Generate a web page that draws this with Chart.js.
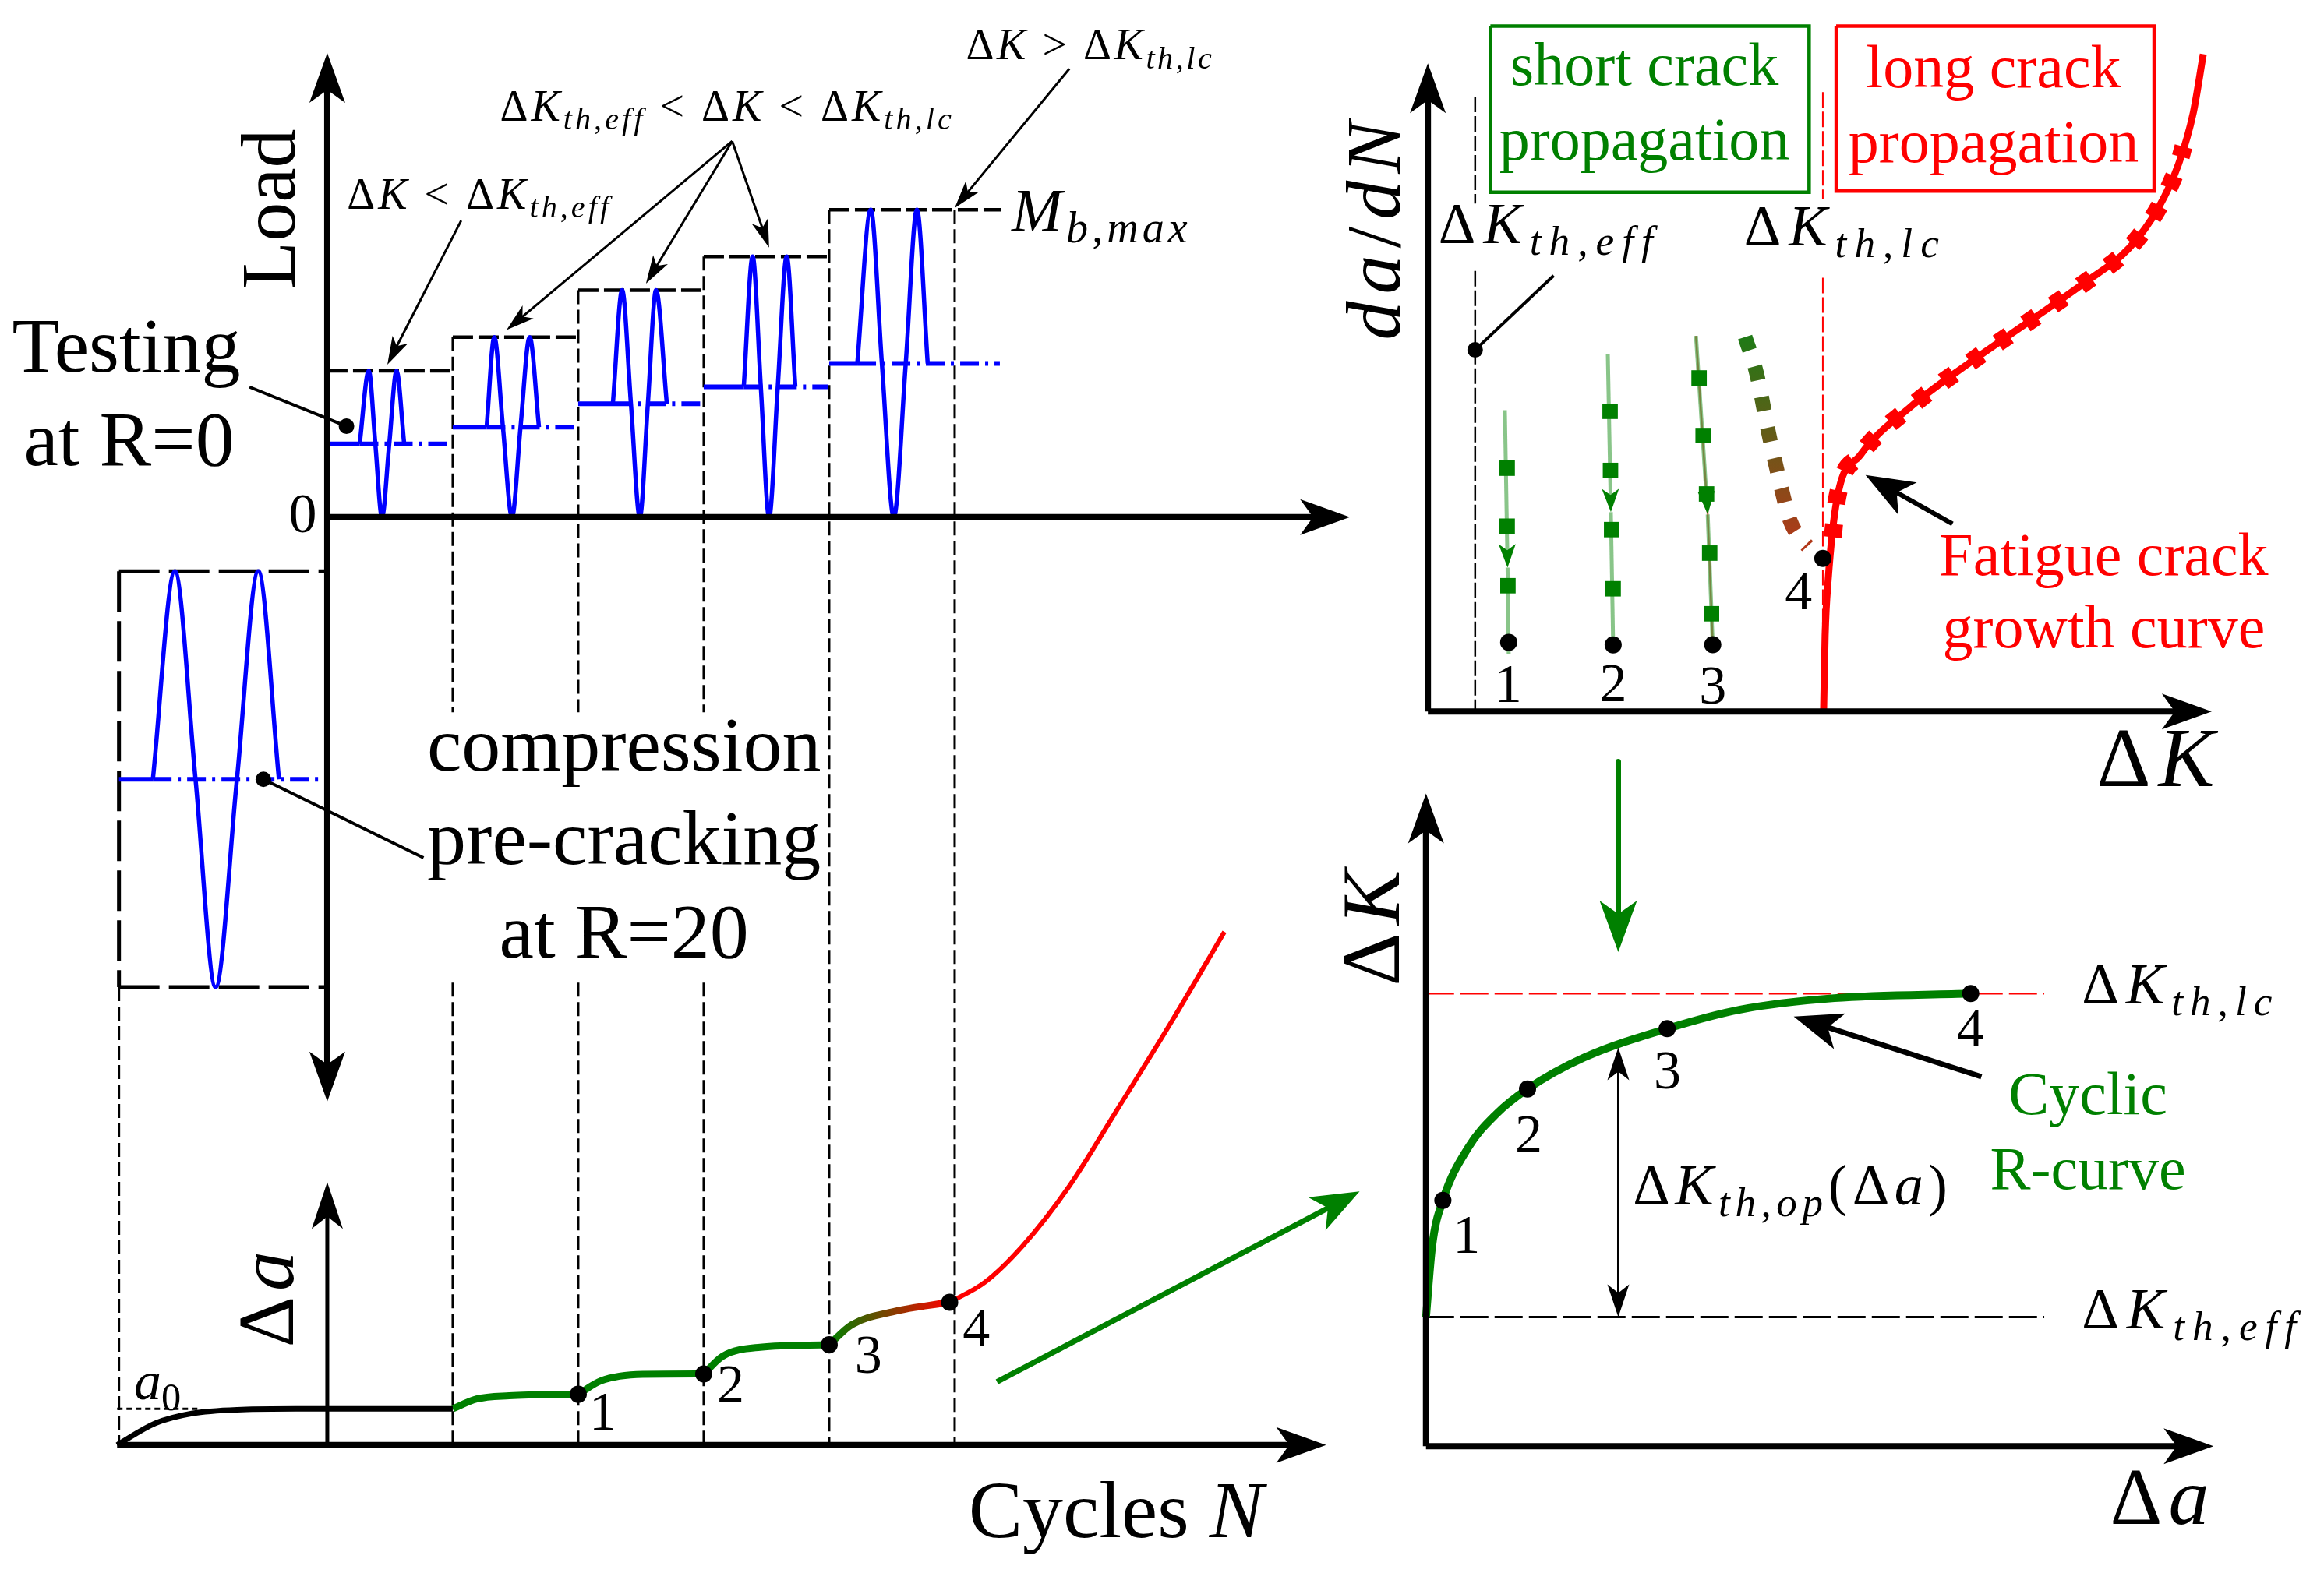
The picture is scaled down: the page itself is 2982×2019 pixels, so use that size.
<!DOCTYPE html>
<html>
<head>
<meta charset="utf-8">
<title>Cyclic R-curve schematic</title>
<script src="https://cdn.jsdelivr.net/npm/chart.js@4.4.1/dist/chart.umd.min.js"></script>
<style>
  html, body { margin: 0; padding: 0; background: #fff; }
  body { position: relative; width: 2982px; height: 2019px; overflow: hidden; }
  canvas { position: absolute; }
</style>
</head>
<body>
<canvas id="load"></canvas>
<canvas id="rate"></canvas>
<canvas id="rcurve"></canvas>
<script>
// ---------- values ----------
// load / cycles panel: N in load-block units, load relative to the first block peak
const blockStartN = [0, 1, 2, 3, 4];
const blockEndN = [1, 2, 3, 4, 5];
const blockTailN = [1, 2, 3, 4, 5.37];
const blockMaxLoad = [1.0, 1.23, 1.55, 1.78, 2.10];
const blockMinLoad = [0, 0, 0, 0, 0];
// rise, peak, mean, valley, mean, peak, fall
const blockWaveN = [
  [0.258, 0.331, 0.383, 0.436, 0.494, 0.552, 0.613],
  [1.27, 1.331, 1.40, 1.472, 1.54, 1.613, 1.687],
  [2.276, 2.35, 2.42, 2.491, 2.555, 2.62, 2.706],
  [3.319, 3.39, 3.455, 3.521, 3.59, 3.661, 3.73],
  [4.224, 4.331, 4.42, 4.515, 4.61, 4.699, 4.785],
];
const waveLevel = ['mean', 'max', 'mean', 'min', 'mean', 'max', 'mean'];
const precrackSpanN = [-1.66, 0];
const precrackWaveN = [-1.39, -1.215, -1.05, -0.89, -0.72, -0.55, -0.385];
const precrackMaxLoad = -0.37;
const precrackMinLoad = -3.21;

// crack extension vs cycles (Δa relative to a0)
const crackPreN = [-1.675, -1.37, -1.08, -0.68, -0.25, 0.3, 1.0];
const crackPreA = [0, 0.6, 0.87, 0.98, 1.0, 1.0, 1.0];
const crackShortN = [[1.0, 1.19, 1.45, 2.0], [2.0, 2.18, 2.515, 3.0], [3.0, 3.15, 3.45, 4.0]];
const crackShortA = [[1.0, 1.27, 1.36, 1.40], [1.40, 1.77, 1.95, 1.96], [1.96, 2.45, 2.70, 2.77]];
const crackMixN = [4.0, 4.18, 4.51, 4.96];
const crackMixA = [2.77, 3.32, 3.68, 3.94];
const crackLongN = [4.96, 5.24, 5.54, 5.91, 6.29, 6.72, 7.15];
const crackLongA = [3.94, 4.49, 5.49, 7.13, 9.23, 11.64, 14.17];
const crackMarkN = [2.0, 3.0, 4.0, 4.96];
const crackMarkA = [1.40, 1.96, 2.77, 3.94];
const a0Level = 1.0;

// da/dN vs ΔK (schematic units)
const dKthEff = 0.62;
const dKthLc = 5.18;
const fcgK = [5.19, 5.21, 5.25, 5.365, 5.67, 6.32, 7.09, 7.85, 8.62, 9.195, 9.58, 9.846, 10.037, 10.17];
const fcgRate = [0, 1.0, 1.74, 2.80, 3.38, 4.01, 4.59, 5.12, 5.66, 6.11, 6.64, 7.22, 7.89, 8.67];
const fcgTestK = [5.31, 5.365, 5.67, 6.32, 7.09, 7.85, 8.62, 9.195, 9.58, 9.846, 9.91];
const fcgTestRate = [2.30, 2.80, 3.38, 4.01, 4.59, 5.12, 5.66, 6.11, 6.64, 7.22, 7.45];
const shortTopK = [1.01, 2.36, 3.516];
const shortTopRate = [3.975, 4.71, 4.955];
const shortArrowK = [1.045, 2.40, 3.67];
const shortArrowRate = [1.90, 2.63, 2.60];
const shortEndK = [1.06, 2.43, 3.736];
const shortEndRate = [0.76, 0.88, 0.883];
const shortDotRate = [0.914, 0.88, 0.883];
const shortSqK = [[1.04, 1.04, 1.05], [2.39, 2.395, 2.41, 2.43], [3.557, 3.61, 3.655, 3.696, 3.72]];
const shortSqRate = [[3.21, 2.445, 1.66], [3.96, 3.18, 2.40, 1.62], [4.40, 3.64, 2.87, 2.09, 1.29]];
const transK = [4.16, 4.31, 4.47, 4.64, 4.75, 4.88, 4.98];
const transRate = [4.94, 4.465, 3.67, 2.93, 2.52, 2.29, 2.18];
const point4K = 5.18, point4Rate = 2.02;
const thEffMarkRate = 4.77;

// cyclic R-curve: ΔK vs Δa
const rcurveDa = [0, 0.08, 0.22, 0.55, 0.916, 1.325, 2.06, 3.148, 4.10, 5.33, 7.11];
const rcurveK = [1.69, 2.62, 3.22, 3.91, 4.35, 4.68, 5.09, 5.47, 5.72, 5.87, 5.93];
const rMarkDa = [0.22, 1.325, 3.148, 7.11];
const rMarkK = [3.22, 4.68, 5.47, 5.93];
const rThEff = 1.69, rThLc = 5.93;
const markNames = ['1', '2', '3', '4'];

// ---------- layout: canvas boxes, axis origins (px) and px per unit ----------
const frames = {
  load: { box: [0, 0, 1800, 2019], x: [414, 163], yL: [660, 190], yA: [1864, 47] },
  rate: { box: [1690, 0, 1292, 1050], x: [1821, 100], y: [924, 100] },
  rcurve: { box: [1690, 940, 1292, 1079], x: [1821, 100], y: [1864, 100] },
};
const GREEN = '#008000', RED = '#ff0000', BLUE = '#0000ff', BLACK = '#000000';
const LIGHTGREEN = 'rgba(40,150,40,0.55)';
const FONT = '"Liberation Serif", "Times New Roman", serif';
const BIG = [64, 46], AXHEAD = [60, 40], THIN = [36, 22], BOLD = [62, 48];

const pts = (xs, ys) => xs.map((x, i) => ({ x, y: ys[i] }));
function seg(data, color, width, more) {
  return Object.assign({ data, showLine: true, borderColor: color, backgroundColor: color,
    borderWidth: width, pointRadius: 0, order: 3 }, more || {});
}
const smooth = { cubicInterpolationMode: 'monotone' };
function dots(xs, ys, r, more) {
  return Object.assign({ data: pts(xs, ys), showLine: false, pointRadius: r,
    pointBackgroundColor: BLACK, pointBorderWidth: 0, order: 0 }, more || {});
}
function waveData(ns, max, min) {
  const lv = { max, min, mean: (max + min) / 2 };
  return ns.map((n, i) => ({ x: n, y: lv[waveLevel[i]] }));
}
function hGradient(x0, x1, c0, c1) {
  return (c) => {
    const ch = c.chart;
    if (!ch.chartArea) return c0;
    const xs = ch.scales.x;
    const g = ch.ctx.createLinearGradient(xs.getPixelForValue(x0), 0, xs.getPixelForValue(x1), 0);
    g.addColorStop(0, c0); g.addColorStop(1, c1);
    return g;
  };
}
function vGradient(y0, y1, c0, c1, axis) {
  return (c) => {
    const ch = c.chart;
    if (!ch.chartArea) return c0;
    const ys = ch.scales[axis || 'y'];
    const g = ch.ctx.createLinearGradient(0, ys.getPixelForValue(y0), 0, ys.getPixelForValue(y1));
    g.addColorStop(0, c0); g.addColorStop(1, c1);
    return g;
  };
}
const meanDash = { borderDash: (c) => (c.p0DataIndex === 0 ? [] : [24, 8, 4, 8]) };

// ---------- left: load blocks and crack extension ----------
const fl = frames.load;
const crackZeroLoad = (fl.yL[0] - fl.yA[0]) / fl.yL[1];
const textGapLoad = [-1.332, -3.179], textGapN = [0.8, 3.9];
const yL = { yAxisID: 'yL' }, yA = { yAxisID: 'yA' };
const loadSets = [];

loadSets.push(seg([{ x: 0, y: -3.99 }, { x: 0, y: 3.17 }], BLACK, 8, { ...yL, headStart: BIG, headEnd: BIG, order: 1 }));
loadSets.push(seg([{ x: 0, y: 0 }, { x: 8.15, y: 0 }], BLACK, 8, { ...yL, headEnd: BIG, order: 1 }));
loadSets.push(seg([{ x: 0, y: 0 }, { x: 0, y: 7.26 }], BLACK, 5, { ...yA, headEnd: AXHEAD, order: 1 }));
loadSets.push(seg([{ x: -1.675, y: 0 }, { x: 7.96, y: 0 }], BLACK, 8, { ...yA, headEnd: BIG, order: 1 }));

blockStartN.forEach((n0, k) => {
  const max = blockMaxLoad[k], min = blockMinLoad[k], mean = (max + min) / 2;
  const nEnd = blockEndN[k];
  loadSets.push(seg([{ x: n0, y: max }, { x: blockTailN[k], y: max }], BLACK, 4.5, { ...yL, borderDash: [26, 7], order: 4 }));
  const top = k < blockStartN.length - 1 ? blockMaxLoad[k + 1] : max;
  const edge = nEnd > textGapN[0] && nEnd < textGapN[1]
    ? [{ x: nEnd, y: top }, { x: nEnd, y: textGapLoad[0] }, { x: nEnd, y: null }, { x: nEnd, y: textGapLoad[1] }, { x: nEnd, y: crackZeroLoad }]
    : [{ x: nEnd, y: top }, { x: nEnd, y: crackZeroLoad }];
  loadSets.push(seg(edge, BLACK, 3, { ...yL, borderDash: [18, 7], order: 4 }));
  loadSets.push(seg([{ x: n0, y: mean }, { x: blockWaveN[k][0], y: mean }, { x: blockTailN[k] - 0.01, y: mean }], BLUE, 6,
    { ...yL, order: 2, segment: meanDash }));
  loadSets.push(seg(waveData(blockWaveN[k], max, min), BLUE, 5.5, { ...yL, ...smooth, order: 2 }));
});

// compression pre-cracking block
const pcMean = (precrackMaxLoad + precrackMinLoad) / 2;
const [pc0, pc1] = precrackSpanN;
loadSets.push(seg([{ x: pc0, y: precrackMaxLoad }, { x: pc1, y: precrackMaxLoad }], BLACK, 5, { ...yL, borderDash: [52, 12], order: 4 }));
loadSets.push(seg([{ x: pc0, y: precrackMinLoad }, { x: pc1, y: precrackMinLoad }], BLACK, 5, { ...yL, borderDash: [52, 12], order: 4 }));
loadSets.push(seg([{ x: pc0, y: precrackMaxLoad }, { x: pc0, y: precrackMinLoad }], BLACK, 5, { ...yL, borderDash: [52, 12], order: 4 }));
loadSets.push(seg([{ x: pc0, y: precrackMinLoad }, { x: pc0, y: crackZeroLoad }], BLACK, 3, { ...yL, borderDash: [18, 7], order: 4 }));
loadSets.push(seg([{ x: pc0, y: pcMean }, { x: precrackWaveN[0], y: pcMean }, { x: pc1, y: pcMean }], BLUE, 6,
  { ...yL, order: 2, segment: meanDash }));
loadSets.push(seg(waveData(precrackWaveN, precrackMaxLoad, precrackMinLoad), BLUE, 5.5, { ...yL, ...smooth, order: 2 }));

// crack extension curve
loadSets.push(seg(pts(crackPreN, crackPreA), BLACK, 7, { ...yA, ...smooth, order: 2 }));
crackShortN.forEach((ns, i) => loadSets.push(seg(pts(ns, crackShortA[i]), GREEN, 9, { ...yA, ...smooth, order: 2 })));
loadSets.push(seg(pts(crackMixN, crackMixA), GREEN, 9, { ...yA, ...smooth, order: 2,
  borderColor: hGradient(crackMixN[0], crackMixN[crackMixN.length - 1], GREEN, RED) }));
loadSets.push(seg(pts(crackLongN, crackLongA), RED, 6, { ...yA, ...smooth, order: 2 }));
loadSets.push(seg([{ x: -1.675, y: a0Level }, { x: -1.01, y: a0Level }], BLACK, 3, { ...yA, borderDash: [7, 5], order: 4 }));
loadSets.push(dots(crackMarkN, crackMarkA, 11, yA));

// pointers and annotation arrows
loadSets.push(seg([{ x: -0.62, y: 0.889 }, { x: 0.153, y: 0.621 }], BLACK, 4, yL));
loadSets.push(dots([0.153], [0.621], 10, yL));
loadSets.push(seg([{ x: 0.767, y: -2.326 }, { x: -0.509, y: pcMean }], BLACK, 4, yL));
loadSets.push(dots([-0.509], [pcMean], 10, yL));
loadSets.push(seg([{ x: 1.067, y: 2.026 }, { x: 0.479, y: 1.042 }], BLACK, 3, { ...yL, headEnd: THIN, order: 1 }));
[[1.429, 1.279], [2.54, 1.595], [3.521, 1.842]].forEach(([n, l]) =>
  loadSets.push(seg([{ x: 3.227, y: 2.568 }, { x: n, y: l }], BLACK, 3, { ...yL, headEnd: THIN, order: 1 })));
loadSets.push(seg([{ x: 5.914, y: 3.063 }, { x: 5.0, y: 2.111 }], BLACK, 3, { ...yL, headEnd: THIN, order: 1 }));
loadSets.push(seg([{ x: 5.337, y: 1.745 }, { x: 8.227, y: 7.0 }], GREEN, 7, { ...yA, headEnd: BOLD, order: 1 }));

// ---------- top right: da/dN vs ΔK ----------
const rateSets = [];
rateSets.push(seg([{ x: 0, y: 0 }, { x: 0, y: 8.55 }], BLACK, 8, { headEnd: BIG, order: 1 }));
rateSets.push(seg([{ x: 0, y: 0 }, { x: 10.28, y: 0 }], BLACK, 8, { headEnd: BIG, order: 1 }));
rateSets.push(seg([{ x: dKthEff, y: 8.11 }, { x: dKthEff, y: 6.70 }, { x: dKthEff, y: null }, { x: dKthEff, y: 5.81 }, { x: dKthEff, y: 0 }],
  BLACK, 2.5, { borderDash: [20, 5], order: 4 }));
rateSets.push(seg([{ x: dKthLc, y: 8.17 }, { x: dKthLc, y: 6.76 }, { x: dKthLc, y: null }, { x: dKthLc, y: 5.72 }, { x: dKthLc, y: 0 }],
  RED, 2, { borderDash: [20, 5], order: 4 }));
rateSets.push(seg([{ x: 0.82, y: 9.04 }, { x: 5.00, y: 9.04 }, { x: 5.00, y: 6.85 }, { x: 0.82, y: 6.85 }, { x: 0.82, y: 9.04 }],
  GREEN, 4.5, { borderJoinStyle: 'miter' }));
rateSets.push(seg([{ x: 5.355, y: 9.04 }, { x: 9.525, y: 9.04 }, { x: 9.525, y: 6.865 }, { x: 5.355, y: 6.865 }, { x: 5.355, y: 9.04 }],
  RED, 4.5, { borderJoinStyle: 'miter' }));
rateSets.push(seg(pts(fcgK, fcgRate), RED, 9, { ...smooth, order: 2 }));
rateSets.push(seg(pts(fcgTestK, fcgTestRate), RED, 23, { ...smooth, borderDash: [17, 26], order: 2 }));
shortTopK.forEach((k, i) => {
  const upper = [{ x: k, y: shortTopRate[i] }, { x: shortArrowK[i], y: shortArrowRate[i] }];
  const lower = [{ x: shortArrowK[i], y: shortArrowRate[i] }, { x: shortEndK[i], y: shortEndRate[i] }];
  rateSets.push(seg(upper, LIGHTGREEN, 5, { headEnd: [30, 22], backgroundColor: GREEN, order: 2 }));
  rateSets.push(seg(lower, LIGHTGREEN, 5, { order: 2 }));
  if (i === 2) {
    rateSets.push(seg(upper, 'rgba(205,95,70,0.85)', 2.5, { order: 2 }));
    rateSets.push(seg(lower, 'rgba(205,95,70,0.85)', 2.5, { order: 2 }));
  }
  rateSets.push({ data: pts(shortSqK[i], shortSqRate[i]), showLine: false, pointStyle: 'rect', pointRadius: 14,
    pointBackgroundColor: GREEN, pointBorderWidth: 0, order: 1 });
});
rateSets.push(dots(shortEndK, shortDotRate, 11));
rateSets.push(seg(pts(transK, transRate), '#5a5a1a', 19, { ...smooth, borderDash: [18, 22], order: 2,
  borderColor: vGradient(transRate[0], transRate[transRate.length - 1], '#1f7a16', '#b3381a') }));
rateSets.push(dots([point4K], [point4Rate], 11));
rateSets.push(dots([dKthEff], [thEffMarkRate], 10));
rateSets.push(seg([{ x: dKthEff, y: thEffMarkRate }, { x: 1.65, y: 5.75 }], BLACK, 4));
rateSets.push(seg([{ x: 6.88, y: 2.475 }, { x: 5.74, y: 3.12 }], BLACK, 6, { headEnd: BOLD, order: 1 }));

// ---------- bottom right: cyclic R-curve ----------
const rSets = [];
rSets.push(seg([{ x: 0, y: 0 }, { x: 0, y: 8.55 }], BLACK, 8, { headEnd: BIG, order: 1 }));
rSets.push(seg([{ x: 0, y: 0 }, { x: 10.28, y: 0 }], BLACK, 8, { headEnd: BIG, order: 1 }));
rSets.push(seg([{ x: 0, y: rThLc }, { x: 8.07, y: rThLc }], RED, 2.5, { borderDash: [36, 8], order: 4 }));
rSets.push(seg([{ x: 0, y: rThEff }, { x: 8.07, y: rThEff }], BLACK, 3, { borderDash: [36, 8], order: 4 }));
rSets.push(seg(pts(rcurveDa, rcurveK), GREEN, 10, { ...smooth, order: 2 }));
rSets.push(dots(rMarkDa, rMarkK, 11));
rSets.push(seg([{ x: 2.51, y: 5.224 }, { x: 2.51, y: rThEff }], BLACK, 3, { headStart: [42, 28], headEnd: [42, 28], order: 1 }));
rSets.push(seg([{ x: 7.25, y: 4.84 }, { x: 4.80, y: 5.63 }], BLACK, 7, { headEnd: BOLD, order: 1 }));
rSets.push(seg([{ x: 2.51, y: 8.97 }, { x: 2.51, y: 6.474 }], GREEN, 7, { headEnd: [66, 48], order: 1 }));

// ---------- text ----------
const panelLabels = {
  load: [
    { s: 'Load', x: -0.423, y: 2.105, size: 100, rot: -90, align: 'center', base: 'middle' },
    { s: '0', x: -0.196, y: 0, size: 72, align: 'center', base: 'middle' },
    { s: 'Testing', x: -1.58, y: 0.995, size: 100, align: 'center' },
    { s: 'at R=0', x: -1.58, y: 0.353, size: 100, align: 'center' },
    { s: '$ΔK < ΔK_{th,eff}$', x: 1.2, y: 2.105, size: 56, align: 'center', tr: 4 },
    { s: '$ΔK_{th,eff} < ΔK < ΔK_{th,lc}$', x: 3.175, y: 2.71, size: 56, align: 'center', tr: 4 },
    { s: '$ΔK > ΔK_{th,lc}$', x: 6.07, y: 3.126, size: 56, align: 'center', tr: 3.5 },
    { s: '$M_{b,max}$', x: 5.454, y: 1.958, size: 78, align: 'left', tr: 5 },
    { s: 'compression', x: 2.365, y: -1.732, size: 100, align: 'center' },
    { s: 'pre-cracking', x: 2.365, y: -2.368, size: 100, align: 'center' },
    { s: 'at R=20', x: 2.365, y: -3.01, size: 100, align: 'center' },
    { s: '$Δa$', ax: 'yA', x: -0.442, y: 4.02, size: 102, rot: -90, align: 'center', base: 'middle', tr: 7 },
    { s: '$a_0$', ax: 'yA', x: -1.54, y: 1.255, size: 70, align: 'left' },
    { s: 'Cycles $N$', ax: 'yA', x: 5.11, y: -2.55, size: 104, align: 'left' },
    ...markNames.map((t, i) => ({ s: t, ax: 'yA', x: [2.196, 3.215, 4.313, 5.172][i], y: [0.81, 1.57, 2.38, 3.15][i], size: 70, align: 'center', base: 'middle' })),
  ],
  rate: [
    { s: 'short crack', x: 2.84, y: 8.26, size: 78, color: GREEN, align: 'center' },
    { s: 'propagation', x: 2.84, y: 7.28, size: 78, color: GREEN, align: 'center' },
    { s: 'long crack', x: 7.42, y: 8.23, size: 78, color: RED, align: 'center' },
    { s: 'propagation', x: 7.42, y: 7.25, size: 78, color: RED, align: 'center' },
    { s: '$da/dN$', x: -0.64, y: 6.34, size: 100, rot: -90, align: 'center', base: 'middle', tr: 9 },
    { s: '$ΔK_{th,eff}$', x: 0.14, y: 6.18, size: 74, align: 'left', tr: 10 },
    { s: '$ΔK_{th,lc}$', x: 4.145, y: 6.15, size: 74, align: 'left', tr: 10 },
    { s: 'Fatigue crack', x: 8.865, y: 1.80, size: 78, color: RED, align: 'center' },
    { s: 'growth curve', x: 8.865, y: 0.85, size: 78, color: RED, align: 'center' },
    { s: '$ΔK$', x: 8.77, y: -0.98, size: 108, align: 'left', tr: 10 },
    ...markNames.map((t, i) => ({ s: t, x: [1.055, 2.43, 3.736, 4.86][i], y: [0.32, 0.33, 0.30, 1.54][i], size: 70, align: 'center', base: 'middle' })),
  ],
  rcurve: [
    { s: '$ΔK$', x: -0.64, y: 6.79, size: 106, rot: -90, align: 'center', base: 'middle', tr: 10 },
    { s: '$Δa$', x: 8.93, y: -1.02, size: 104, align: 'left', tr: 8 },
    { s: '$ΔK_{th,lc}$', x: 8.56, y: 5.80, size: 74, align: 'left', tr: 9 },
    { s: '$ΔK_{th,eff}$', x: 8.56, y: 1.54, size: 74, align: 'left', tr: 10 },
    { s: '$ΔK_{th,op}(Δa)$', x: 2.70, y: 3.164, size: 74, align: 'left', tr: 6.5 },
    { s: 'Cyclic', x: 8.64, y: 4.35, size: 78, color: GREEN, align: 'center' },
    { s: 'R-curve', x: 8.64, y: 3.37, size: 78, color: GREEN, align: 'center' },
    ...markNames.map((t, i) => ({ s: t, x: [0.53, 1.34, 3.15, 7.105][i], y: [2.725, 4.04, 4.87, 5.43][i], size: 70, align: 'center', base: 'middle' })),
  ],
};

// $...$ is math: latin letters italic, _{..} subscript
function parseRich(s) {
  const runs = [];
  let math = false;
  const push = (t, it, sub) => {
    const last = runs[runs.length - 1];
    if (last && last.it === it && last.sub === sub) last.t += t;
    else runs.push({ t, it, sub });
  };
  for (let i = 0; i < s.length; i++) {
    const c = s[i];
    if (c === '$') { math = !math; continue; }
    if (math && c === '_') {
      let g;
      if (s[i + 1] === '{') { const j = s.indexOf('}', i); g = s.slice(i + 2, j); i = j; }
      else { g = s[i + 1]; i++; }
      for (const ch of g) push(ch, /[A-Za-z]/.test(ch), true);
      continue;
    }
    push(c, math && /[A-Za-z]/.test(c), false);
  }
  return runs;
}

function drawRich(ctx, it, px, py) {
  const runs = parseRich(it.s), size = it.size, tr = it.tr || 0;
  const font = (r) => (r.it ? 'italic ' : '') + (r.sub ? size * 0.72 : size) + 'px ' + FONT;
  ctx.save();
  ctx.translate(px, py);
  if (it.rot) ctx.rotate(it.rot * Math.PI / 180);
  ctx.fillStyle = it.color || BLACK;
  ctx.textBaseline = it.base || 'alphabetic';
  ctx.textAlign = 'left';
  let w = 0;
  for (const r of runs) {
    ctx.font = font(r);
    for (const ch of r.t) w += ctx.measureText(ch).width + tr;
  }
  w -= tr;
  let x = it.align === 'left' ? 0 : it.align === 'right' ? -w : -w / 2;
  for (const r of runs) {
    ctx.font = font(r);
    const dy = r.sub ? size * 0.2 : 0;
    if (!tr) { ctx.fillText(r.t, x, dy); x += ctx.measureText(r.t).width; continue; }
    for (const ch of r.t) { ctx.fillText(ch, x, dy); x += ctx.measureText(ch).width + tr; }
  }
  ctx.restore();
}

const richText = {
  id: 'richText',
  afterDatasetsDraw(chart) {
    const id = chart.canvas.id;
    for (const it of panelLabels[id] || []) {
      const ys = chart.scales[it.ax || (id === 'load' ? 'yL' : 'y')];
      drawRich(chart.ctx, it, chart.scales.x.getPixelForValue(it.x), ys.getPixelForValue(it.y));
    }
  },
};

// arrow heads: pull the line end back under the head, then fill the head
const tips = new WeakMap();
const arrowHeads = {
  id: 'arrowHeads',
  beforeDatasetDraw(chart, args) {
    const ds = chart.data.datasets[args.index];
    if (!ds.headEnd && !ds.headStart) return;
    const p = args.meta.data, n = p.length, list = [];
    const pull = (tip, prev, head) => {
      const dx = tip.x - prev.x, dy = tip.y - prev.y, d = Math.hypot(dx, dy) || 1;
      list.push({ el: tip, x: tip.x, y: tip.y, ux: dx / d, uy: dy / d, head });
      tip.x -= dx / d * head[0] * 0.6;
      tip.y -= dy / d * head[0] * 0.6;
    };
    if (ds.headEnd) pull(p[n - 1], p[n - 2], ds.headEnd);
    if (ds.headStart) pull(p[0], p[1], ds.headStart);
    tips.set(args.meta, list);
  },
  afterDatasetDraw(chart, args) {
    const list = tips.get(args.meta);
    if (!list) return;
    const ds = chart.data.datasets[args.index], ctx = chart.ctx;
    for (const t of list) {
      t.el.x = t.x; t.el.y = t.y;
      const [len, wid] = t.head, nx = -t.uy, ny = t.ux;
      ctx.save();
      ctx.fillStyle = typeof ds.backgroundColor === 'string' ? ds.backgroundColor : BLACK;
      ctx.beginPath();
      ctx.moveTo(t.x, t.y);
      ctx.lineTo(t.x - t.ux * len + nx * wid / 2, t.y - t.uy * len + ny * wid / 2);
      ctx.lineTo(t.x - t.ux * len * 0.74, t.y - t.uy * len * 0.74);
      ctx.lineTo(t.x - t.ux * len - nx * wid / 2, t.y - t.uy * len - ny * wid / 2);
      ctx.closePath();
      ctx.fill();
      ctx.restore();
    }
    tips.delete(args.meta);
  },
};

function axisRange(px0, size, origin, unit, flip) {
  return flip
    ? { min: (origin - (px0 + size)) / unit, max: (origin - px0) / unit }
    : { min: (px0 - origin) / unit, max: (px0 + size - origin) / unit };
}

function makeChart(id, datasets) {
  const f = frames[id];
  const [left, top, w, h] = f.box;
  const cv = document.getElementById(id);
  cv.width = w; cv.height = h;
  cv.style.left = left + 'px'; cv.style.top = top + 'px';
  const scales = { x: { type: 'linear', display: false, bounds: 'data', ...axisRange(left, w, f.x[0], f.x[1], false) } };
  for (const key of Object.keys(f)) {
    if (key[0] !== 'y') continue;
    scales[key] = { type: 'linear', axis: 'y', display: false, bounds: 'data', ...axisRange(top, h, f[key][0], f[key][1], true) };
  }
  return new Chart(cv, {
    type: 'scatter',
    data: { datasets },
    options: {
      responsive: false,
      animation: false,
      devicePixelRatio: 1,
      events: [],
      layout: { padding: 0 },
      elements: { line: { borderCapStyle: 'butt', borderJoinStyle: 'round', tension: 0 } },
      plugins: { legend: { display: false }, tooltip: { enabled: false } },
      scales,
    },
    plugins: [arrowHeads, richText],
  });
}

makeChart('load', loadSets);
makeChart('rate', rateSets);
makeChart('rcurve', rSets);
</script>
</body>
</html>
